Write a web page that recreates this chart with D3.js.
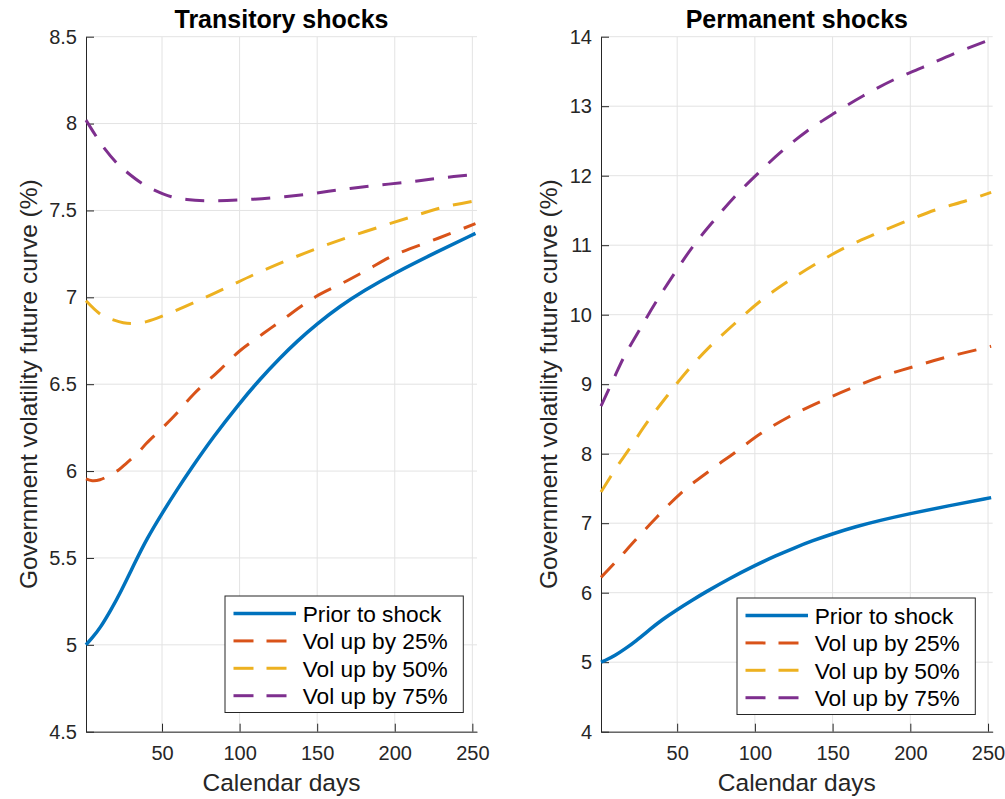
<!DOCTYPE html>
<html><head><meta charset="utf-8">
<script src="https://cdn.jsdelivr.net/npm/d3@7"></script>
<style>body{margin:0;background:#fff}svg{display:block;font-family:"Liberation Sans",Arial,Helvetica,sans-serif}</style>
</head><body><svg id="c" width="1005" height="799"></svg>
<script>
// ---------- data ----------
const seriesNames = ["Prior to shock", "Vol up by 25%", "Vol up by 50%", "Vol up by 75%"];
const colors = ["#0072BD", "#D95319", "#EDB120", "#7E2F8E"];
const xTicks = [50, 100, 150, 200, 250];
const yTicksTransitory = [4.5, 5, 5.5, 6, 6.5, 7, 7.5, 8, 8.5];
const yTicksPermanent = [4, 5, 6, 7, 8, 9, 10, 11, 12, 13, 14];
const titles = ["Transitory shocks", "Permanent shocks"];
const xLabel = "Calendar days";
const yLabel = "Government volatility future curve (%)";

// prior-to-shock curve (same in both panels)
const priorDays = [1, 5, 10, 17, 23, 33, 40, 50, 60, 68, 83, 100, 113, 126, 137, 150, 165, 180, 200, 225, 252];
const priorVals = [5.0, 5.04, 5.095, 5.2, 5.297, 5.482, 5.607, 5.757, 5.897, 6.005, 6.197, 6.391, 6.528, 6.651, 6.747, 6.848, 6.951, 7.038, 7.14, 7.252, 7.368];

// transitory shocks
const trans25Days = [1, 5, 10, 16, 22, 27, 34, 40, 50, 59.5, 70.5, 87, 100, 115, 128, 149, 167, 182, 200, 228, 252];
const trans25Vals = [5.955, 5.945, 5.95, 5.975, 6.006, 6.045, 6.1, 6.16, 6.246, 6.333, 6.444, 6.58, 6.691, 6.79, 6.873, 7.003, 7.085, 7.157, 7.244, 7.34, 7.424];
const trans50Days = [1, 11, 18.6, 25, 31.5, 40, 52, 71, 90.6, 110, 130, 150, 169, 190.5, 211, 231, 252];
const trans50Vals = [6.98, 6.898, 6.87, 6.854, 6.85, 6.86, 6.898, 6.971, 7.052, 7.134, 7.211, 7.282, 7.343, 7.406, 7.464, 7.518, 7.556];
const trans75Days = [1, 7, 12, 21, 27, 37, 44, 56, 66, 78, 99, 121, 143, 164, 185, 207, 228, 252];
const trans75Vals = [8.02, 7.934, 7.867, 7.771, 7.723, 7.656, 7.622, 7.579, 7.563, 7.556, 7.56, 7.573, 7.593, 7.618, 7.641, 7.662, 7.685, 7.708];

// permanent shocks
const perm25Days = [1, 9.6, 23.6, 37, 53, 70, 87, 104, 122, 142, 162, 181, 202, 223, 244, 252];
const perm25Vals = [6.22, 6.423, 6.768, 7.09, 7.445, 7.741, 8.014, 8.293, 8.532, 8.748, 8.941, 9.108, 9.252, 9.387, 9.502, 9.545];
const perm50Days = [1, 12, 18, 31, 44, 57, 71, 86, 103, 121, 138, 157, 176, 195, 216, 236, 252];
const perm50Vals = [7.45, 7.837, 8.029, 8.46, 8.845, 9.204, 9.54, 9.852, 10.187, 10.475, 10.715, 10.955, 11.147, 11.324, 11.506, 11.64, 11.76];
const perm75Days = [1, 9.6, 16, 25.7, 36.5, 48.3, 60, 73, 87, 102, 117, 133, 151, 169.5, 189, 208, 227.5, 248, 252];
const perm75Vals = [8.686, 9.1, 9.4, 9.78, 10.187, 10.596, 10.978, 11.338, 11.698, 12.034, 12.345, 12.633, 12.898, 13.147, 13.377, 13.56, 13.75, 13.928, 13.96];

// ---------- drawing ----------
const svg = d3.select("#c");
svg.append("rect").attr("width", 1005).attr("height", 799).attr("fill", "#fff");
const axisColor = "#262626";
const gridColor = "#e3e3e3";

function zip(d, v) { return d.map((x, i) => [x, v[i]]); }

function panel(cfg) {
  const x = d3.scaleLinear().domain([1, 253]).range([cfg.x0, cfg.x1]);
  const y = d3.scaleLinear().domain(cfg.yDomain).range([cfg.y1, cfg.y0]);
  const g = svg.append("g");

  // grid
  g.append("g").selectAll("line").data(xTicks).join("line")
    .attr("x1", d => x(d)).attr("x2", d => x(d)).attr("y1", cfg.y0).attr("y2", cfg.y1)
    .attr("stroke", gridColor).attr("stroke-width", 1);
  g.append("g").selectAll("line").data(cfg.yTicks).join("line")
    .attr("x1", cfg.x0).attr("x2", cfg.x1).attr("y1", d => y(d)).attr("y2", d => y(d))
    .attr("stroke", gridColor).attr("stroke-width", 1);

  // axes
  const ya = g.append("g").attr("transform", `translate(${cfg.x0},0)`)
    .call(d3.axisLeft(y).tickValues(cfg.yTicks).tickSizeInner(-8).tickSizeOuter(0).tickPadding(9).tickFormat(d3.format("")));
  const xa = g.append("g").attr("transform", `translate(0,${cfg.y1})`)
    .call(d3.axisBottom(x).tickValues(xTicks).tickSizeInner(-8).tickSizeOuter(0).tickPadding(14).tickFormat(d3.format("")));
  [ya, xa].forEach(a => {
    a.attr("font-family", null).attr("font-size", null);
    a.selectAll("path.domain").attr("stroke", axisColor).attr("stroke-width", 1);
    a.selectAll(".tick line").attr("stroke", axisColor);
    a.selectAll(".tick text").attr("fill", axisColor).style("font-size", "20px");
  });

  // lines
  cfg.series.forEach((s, i) => {
    const line = d3.line().x(d => x(d[0])).y(d => y(d[1]))
      .curve(i === 0 ? d3.curveBasis : d3.curveCatmullRom.alpha(0.5));
    g.append("path").datum(zip(s[0], s[1]))
      .attr("d", line).attr("fill", "none")
      .attr("stroke", colors[i])
      .attr("stroke-width", i === 0 ? 3.5 : 3)
      .attr("stroke-dasharray", i === 0 ? null : "19,14");
  });

  // titles & labels
  const cx = (cfg.x0 + cfg.x1) / 2;
  g.append("text").attr("x", cx).attr("y", 27.5).attr("text-anchor", "middle")
    .style("font-size", "25px").style("font-weight", "bold").attr("fill", "#000").text(cfg.title);
  g.append("text").attr("x", cx).attr("y", 791).attr("text-anchor", "middle")
    .style("font-size", "24.5px").attr("fill", axisColor).text(xLabel);
  g.append("text").attr("transform", `translate(${cfg.yLabelX},${(cfg.y0 + cfg.y1) / 2}) rotate(-90)`)
    .attr("text-anchor", "middle").style("font-size", "24.5px").attr("fill", axisColor).text(yLabel);

  // legend
  const lg = g.append("g").attr("transform", `translate(${cfg.legX},${cfg.legY})`);
  lg.append("rect").attr("x", 0).attr("y", 0).attr("width", 238.3).attr("height", 116.5)
    .attr("fill", "#fff").attr("stroke", axisColor).attr("stroke-width", 1);
  seriesNames.forEach((n, i) => {
    const ry = 17.5 + i * 27.4;
    lg.append("line").attr("x1", 8.5).attr("x2", 71).attr("y1", ry).attr("y2", ry)
      .attr("stroke", colors[i]).attr("stroke-width", i === 0 ? 3.5 : 3)
      .attr("stroke-dasharray", i === 0 ? null : "20,13");
    lg.append("text").attr("x", 77.7).attr("y", ry + 8.3).style("font-size", "22.7px")
      .attr("fill", "#000").text(n);
  });
}

panel({
  x0: 86, x1: 477, y0: 36.7, y1: 731.7,
  yDomain: [4.5, 8.5], yTicks: yTicksTransitory,
  title: titles[0], yLabelX: 37, legX: 225, legY: 596,
  series: [[priorDays, priorVals], [trans25Days, trans25Vals], [trans50Days, trans50Vals], [trans75Days, trans75Vals]]
});
panel({
  x0: 601, x1: 992.7, y0: 36.7, y1: 731.7,
  yDomain: [4, 14], yTicks: yTicksPermanent,
  title: titles[1], yLabelX: 557, legX: 737, legY: 598,
  series: [[priorDays, priorVals], [perm25Days, perm25Vals], [perm50Days, perm50Vals], [perm75Days, perm75Vals]]
});
</script>
</body></html>
